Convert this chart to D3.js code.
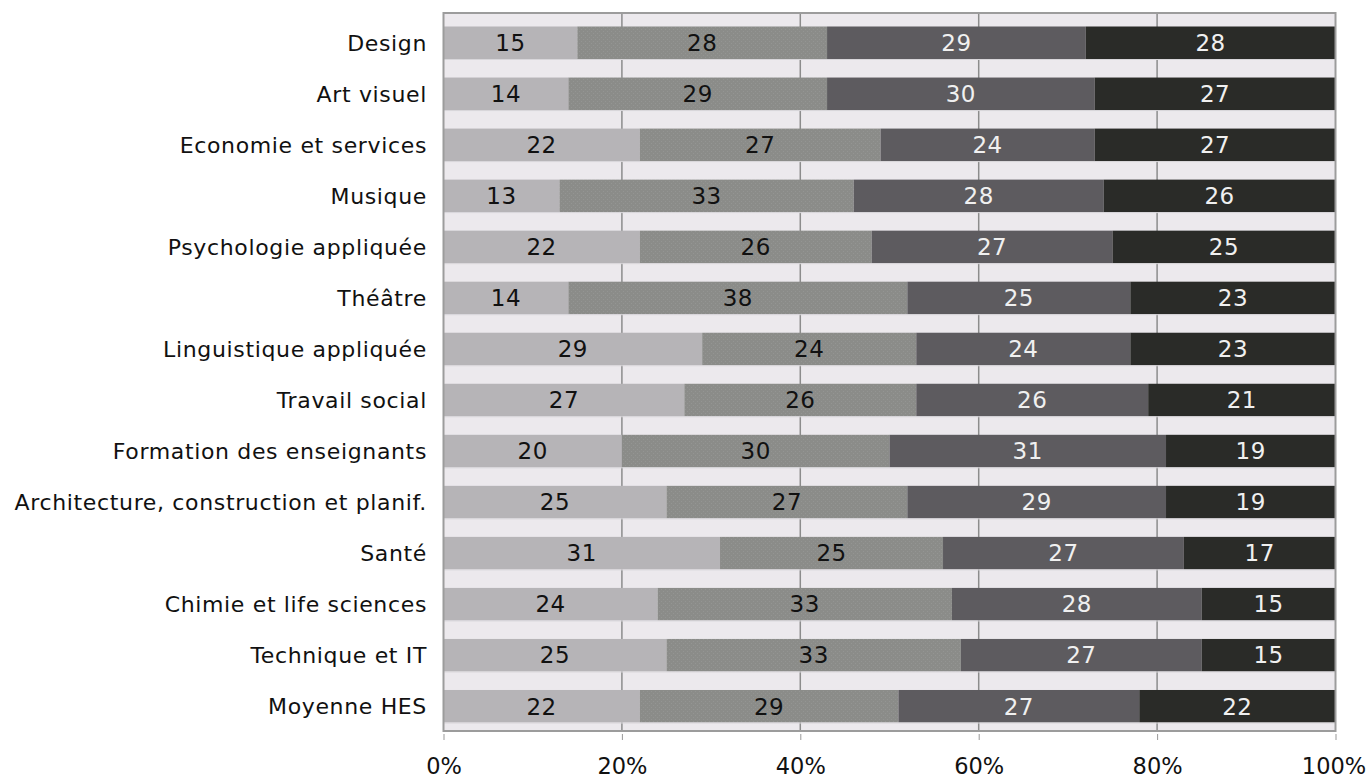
<!DOCTYPE html>
<html><head><meta charset="utf-8">
<script src="https://cdn.jsdelivr.net/npm/d3@7"></script>
<style>body{margin:0;background:#fff;} svg{display:block;}</style>
</head><body>
<svg id="chart" width="1368" height="780"></svg>
<script>
const categories = ["Design","Art visuel","Economie et services","Musique","Psychologie appliquée","Théâtre","Linguistique appliquée","Travail social","Formation des enseignants","Architecture, construction et planif.","Santé","Chimie et life sciences","Technique et IT","Moyenne HES"];
const series1 = [15,14,22,13,22,14,29,27,20,25,31,24,25,22];
const series2 = [28,29,27,33,26,38,24,26,30,27,25,33,33,29];
const series3 = [29,30,24,28,27,25,24,26,31,29,27,28,27,27];
const series4 = [28,27,27,26,25,23,23,21,19,19,17,15,15,22];
const tickValues = [0,20,40,60,80,100];
const tickLabels = ["0%","20%","40%","60%","80%","100%"];

const svg = d3.select("#chart");
const plotL = 443.5, plotR = 1335.5, plotT = 13, plotB = 731;
const x = d3.scaleLinear().domain([0,100]).range([plotL, plotR]);
const y = d3.scaleBand().domain(categories).range([26.5, 722.5]).paddingInner(0.363).paddingOuter(0);

const defs = svg.append("defs");
const pat = defs.append("pattern").attr("id","stip").attr("patternUnits","userSpaceOnUse").attr("width",4).attr("height",4);
pat.append("rect").attr("width",4).attr("height",4).attr("fill","#8b8c89");
pat.append("rect").attr("x",1).attr("y",1).attr("width",1).attr("height",1).attr("fill","#949593");
pat.append("rect").attr("x",3).attr("y",3).attr("width",1).attr("height",1).attr("fill","#949593");

svg.append("rect").attr("x",plotL).attr("y",plotT).attr("width",plotR-plotL).attr("height",plotB-plotT)
  .attr("fill","#ece9ed");

svg.append("g").selectAll("line").data(tickValues.slice(1,-1)).join("line")
  .attr("x1",d=>x(d)).attr("x2",d=>x(d)).attr("y1",plotT).attr("y2",plotB)
  .attr("stroke","#8c8c8c").attr("stroke-width",1.5);

const fills = ["#b6b4b7","url(#stip)","#5d5b5f","#2a2b28"];
const textCols = ["#111","#111","#f0f0f0","#f0f0f0"];
const allSeries = [series1,series2,series3,series4];

const rows = categories.map((c,i)=>{
  let acc = 0;
  return allSeries.map((s,k)=>{ const seg={cat:c,k,v:s[i],x0:acc,x1:acc+s[i]}; acc+=s[i]; return seg; });
}).flat();

const g = svg.append("g");
g.selectAll("rect").data(rows).join("rect")
  .attr("x",d=>x(d.x0)).attr("width",d=>x(d.x1)-x(d.x0))
  .attr("y",d=>y(d.cat)).attr("height",y.bandwidth())
  .attr("fill",d=>fills[d.k]);
g.selectAll("line.edge").data(categories).join("line").attr("class","edge")
  .attr("x1",plotL).attr("x2",plotR)
  .attr("y1",d=>y(d)+y.bandwidth()+0.5).attr("y2",d=>y(d)+y.bandwidth()+0.5)
  .attr("stroke","#d8d6da").attr("stroke-width",1);

g.selectAll("text").data(rows).join("text")
  .attr("x",d=>x((d.x0+d.x1)/2)).attr("y",d=>y(d.cat)+y.bandwidth()/2)
  .attr("dy","0.36em").attr("text-anchor","middle")
  .attr("font-family","DejaVu Sans").attr("font-size",23).attr("letter-spacing",0.5)
  .attr("fill",d=>textCols[d.k]).text(d=>d.v);

svg.append("rect").attr("x",plotL).attr("y",plotT).attr("width",plotR-plotL).attr("height",plotB-plotT)
  .attr("fill","none").attr("stroke","#9c9c9c").attr("stroke-width",2);

svg.append("g").selectAll("text").data(categories).join("text")
  .attr("x",427).attr("y",d=>y(d)+y.bandwidth()/2).attr("dy","0.36em")
  .attr("text-anchor","end").attr("font-family","DejaVu Sans").attr("font-size",22)
  .attr("letter-spacing",0.65)
  .attr("fill","#111").text(d=>d);

const xAxis = d3.axisBottom(x).tickValues(tickValues).tickFormat((d,i)=>tickLabels[i]).tickSize(6).tickPadding(18);
const ax = svg.append("g").attr("transform",`translate(0,${plotB+3})`).call(xAxis);
ax.select(".domain").remove();
ax.selectAll("line").attr("stroke","#999");
ax.selectAll("text").attr("font-family","DejaVu Sans").attr("font-size",22.5).attr("fill","#111")
  .attr("dx",(d,i)=> i===tickValues.length-1 ? -2 : 0);
</script>
</body></html>
